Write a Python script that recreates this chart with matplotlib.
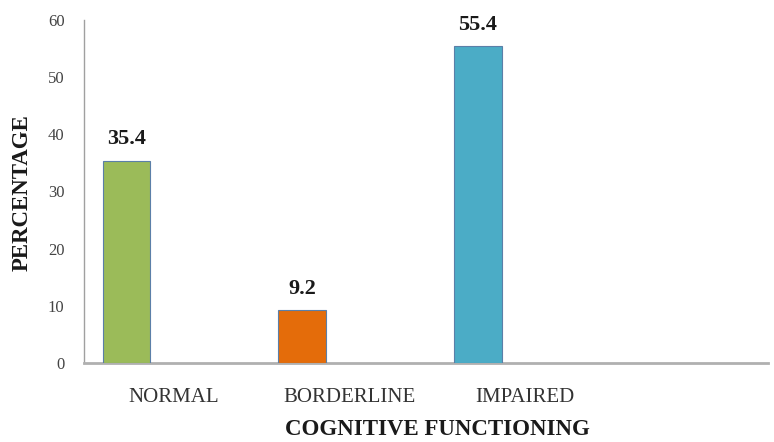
import matplotlib.pyplot as plt
import numpy as np

# data
categories = ["NORMAL", "BORDERLINE", "IMPAIRED"]
percentages = [35.4, 9.2, 55.4]
bar_colors = ["#9BBB59", "#E46C0A", "#4BACC6"]
y_ticks = [0, 10, 20, 30, 40, 50, 60]

plt.rcParams['font.family'] = ['Liberation Serif', 'DejaVu Serif']

fig = plt.figure(figsize=(7.74, 4.42), dpi=100)
ax = fig.add_axes([0.1085, 0.179, 0.8835, 0.776])

x = np.arange(len(categories))
bars = ax.bar(x, percentages, width=0.27, color=bar_colors,
              edgecolor="#5B7FA8", linewidth=0.8, zorder=3)

# value labels
for xi, v in zip(x, percentages):
    ax.annotate(f"{v}", (xi, v), xytext=(0, 8), textcoords="offset points",
                ha="center", va="bottom", fontsize=16, fontweight="bold",
                color="#1a1a1a")

ax.set_xlim(-0.242, 3.65)
ax.set_ylim(0, 60)
ax.set_yticks(y_ticks)
ax.set_xticks(x + 0.27)
ax.set_xticklabels(categories, fontsize=15, color="#333333")
ax.tick_params(axis="y", labelsize=12, labelcolor="#444444", length=0, pad=14)
ax.tick_params(axis="x", length=0, pad=18)

for s in ["top", "right"]:
    ax.spines[s].set_visible(False)
ax.spines["left"].set_color("#a0a0a0")
ax.spines["left"].set_linewidth(1.0)
ax.spines["bottom"].set_color("#b0b0b0")
ax.spines["bottom"].set_linewidth(2.0)

fig.text(0.565, 0.004, "COGNITIVE FUNCTIONING", ha="center", va="bottom",
         fontsize=16.5, fontweight="bold", color="#1a1a1a")
fig.text(0.028, 0.565, "PERCENTAGE", ha="center", va="center", rotation=90,
         fontsize=16.5, fontweight="bold", color="#1a1a1a")

plt.savefig("out.png", dpi=100)
